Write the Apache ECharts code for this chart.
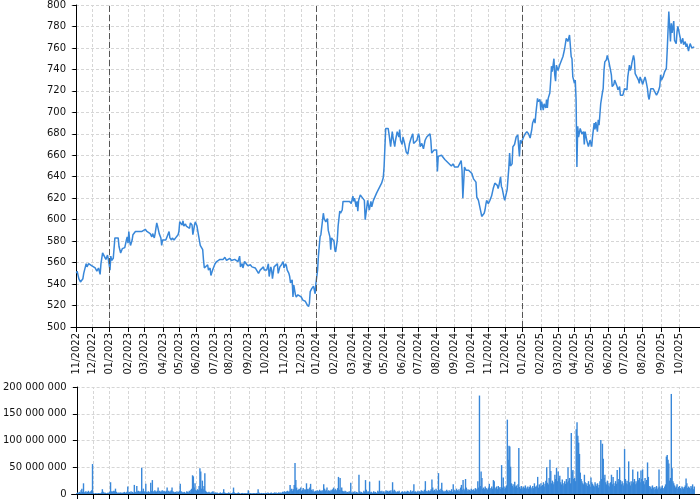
<!DOCTYPE html>
<html><head><meta charset="utf-8">
<script src="https://cdn.jsdelivr.net/npm/echarts@6/dist/echarts.min.js"></script>
<style>html,body{margin:0;padding:0;background:#fff}#c{width:700px;height:500px}</style>
</head><body><div id="c"></div>
<script>
// Trading-day index of the first session of each month, and its label
const monthIdx = [0,20,40,63,83,106,125,146,168,187,210,230,253,274,292,314,336,356,375,397,417,439,461,481,502,523,543,566,587,607,626,648,668,690,713,735];
const monthLbl = ['11/2022','12/2022','01/2023','02/2023','03/2023','04/2023','05/2023','06/2023','07/2023','08/2023','09/2023','10/2023','11/2023','12/2023','01/2024','02/2024','03/2024','04/2024','05/2024','06/2024','07/2024','08/2024','09/2024','10/2024','11/2024','12/2024','01/2025','02/2025','03/2025','04/2025','05/2025','06/2025','07/2025','08/2025','09/2025','10/2025'];
// Year boundaries (dashed markers)
const yearIdx = [40,292,543];
// Price: [trading-day index, close]
const price = [[0,550],[1,552],[3,545],[5,542],[6,542],[8,545],[9,550],[11,550],[12,559],[13,556],[15,559],[17,559],[19,557],[21,556],[23,555],[25,552],[27,555],[29,549],[30,559],[32,569],[34,566],[36,563],[38,567],[39,563],[40,562],[41,553],[42,566],[43,562],[45,564],[47,583],[49,584],[51,583],[52,575],[54,569],[56,573],[58,572],[59,574],[61,581],[62,584],[63,578],[64,589],[65,580],[66,576],[68,581],[69,586],[72,589],[74,590],[76,589],[78,589],[80,589],[82,590],[84,591],[86,589],[88,589],[90,587],[92,584],[93,587],[95,583],[96,587],[98,597],[99,594],[101,587],[103,583],[104,576],[105,581],[107,582],[109,581],[110,583],[111,583],[113,589],[114,583],[116,581],[117,583],[119,581],[121,583],[122,584],[124,586],[125,589],[126,598],[128,599],[129,595],[130,599],[131,594],[133,596],[134,594],[136,595],[138,592],[139,597],[141,595],[142,586],[144,595],[145,598],[147,594],[148,595],[149,594],[151,576],[152,575],[154,572],[155,562],[156,555],[158,556],[160,558],[161,553],[163,555],[164,548],[166,553],[167,555],[169,559],[171,561],[173,562],[175,563],[177,564],[179,563],[181,565],[183,562],[185,563],[187,564],[189,562],[191,563],[193,563],[195,562],[197,561],[199,566],[200,556],[202,559],[203,555],[205,561],[207,559],[209,557],[212,558],[214,556],[216,557],[218,555],[220,556],[222,550],[224,553],[226,552],[228,556],[229,553],[232,553],[234,559],[235,547],[237,556],[238,553],[239,545],[241,556],[243,555],[245,559],[246,550],[248,556],[250,558],[252,561],[253,555],[255,559],[256,557],[257,553],[259,550],[260,547],[261,541],[263,544],[264,528],[265,539],[267,530],[268,528],[270,530],[272,529],[274,528],[276,525],[279,524],[281,521],[283,519],[284,522],[285,533],[287,536],[288,535],[289,538],[291,531],[292,541],[294,553],[295,566],[297,584],[298,586],[300,586],[301,606],[302,601],[304,598],[305,597],[306,601],[307,590],[309,584],[310,572],[311,583],[312,583],[314,580],[315,572],[316,570],[318,581],[319,594],[321,608],[322,606],[324,609],[325,617],[327,618],[329,617],[331,618],[333,617],[335,615],[337,622],[338,617],[339,620],[341,612],[342,617],[343,608],[344,618],[346,623],[348,621],[350,621],[351,618],[352,600],[354,612],[355,618],[357,609],[359,617],[360,612],[362,618],[364,619],[366,625],[368,628],[370,631],[372,634],[374,639],[375,649],[377,685],[379,684],[380,685],[381,680],[383,668],[385,682],[386,676],[388,668],[389,674],[391,682],[393,677],[394,684],[395,674],[397,670],[398,677],[400,671],[402,663],[404,661],[406,671],[408,676],[410,680],[411,671],[413,670],[415,674],[417,680],[418,677],[419,668],[421,671],[423,666],[425,674],[427,677],[429,676],[431,680],[432,674],[433,662],[435,662],[436,665],[437,666],[439,665],[440,645],[441,659],[443,659],[445,660],[447,659],[449,656],[451,656],[453,653],[455,652],[457,650],[459,652],[461,649],[463,648],[465,649],[467,650],[469,655],[470,646],[471,620],[473,649],[475,646],[478,646],[480,645],[482,643],[484,638],[486,637],[487,635],[488,621],[490,618],[491,619],[493,607],[494,603],[495,604],[497,606],[498,609],[499,614],[500,618],[502,615],[504,618],[506,622],[508,629],[510,634],[511,635],[513,632],[514,629],[515,632],[517,640],[518,631],[519,629],[521,621],[522,618],[524,619],[525,628],[527,648],[528,662],[529,650],[530,649],[531,652],[532,668],[534,670],[536,677],[538,679],[539,668],[540,659],[541,674],[542,671],[543,673],[545,677],[547,680],[549,682],[551,680],[553,676],[555,684],[556,690],[558,694],[559,690],[560,699],[562,713],[563,710],[565,712],[566,702],[567,710],[569,702],[570,708],[572,704],[573,712],[574,704],[575,713],[577,718],[578,729],[579,743],[580,738],[582,750],[583,735],[584,729],[585,744],[587,739],[589,744],[591,744],[593,752],[595,759],[597,769],[599,766],[601,772],[603,752],[604,750],[605,733],[607,727],[608,730],[609,712],[610,649],[611,687],[612,677],[614,685],[615,685],[616,680],[618,682],[619,670],[620,682],[622,674],[624,668],[626,674],[628,668],[629,677],[631,690],[632,684],[633,691],[635,682],[636,693],[637,688],[639,708],[640,713],[641,718],[642,722],[643,739],[644,747],[646,749],[647,753],[649,747],[650,747],[651,739],[652,735],[653,724],[655,726],[656,730],[657,729],[659,724],[660,721],[662,724],[663,716],[664,715],[666,716],[667,719],[668,722],[670,721],[671,721],[672,733],[674,744],[675,739],[676,741],[677,746],[679,753],[680,749],[681,736],[683,735],[685,730],[686,727],[687,733],[689,729],[690,726],[692,727],[693,733],[694,730],[696,722],[697,715],[698,712],[700,722],[701,721],[703,722],[705,721],[707,716],[709,719],[711,724],[712,735],[713,730],[715,733],[717,738],[719,741],[720,757],[722,794],[723,780],[724,766],[725,783],[726,774],[728,785],[729,767],[731,764],[732,775],[733,780],[735,780],[736,769],[737,764],[739,769],[740,763],[742,766],[743,761],[744,764],[746,757],[747,761],[748,764],[750,760],[752,761],[753,761]];
// Daily volume in millions of shares, one value per trading day (index 0..753)
const volumeM = [
2,3,2,4,3,7,10,4,20,3, 4,5,3,4,6,3,4,5,7,56, 2,1,1,2,1,1,2,1,2,1, 3,9,4,2,3,2,1,2,3,2,
4,22,5,4,5,6,5,10,4,3, 2,3,2,3,2,3,2,3,4,2, 3,4,14,3,4,3,5,3,4,2, 17,4,3,15,5,6,4,5,4,49,
5,10,4,5,19,4,3,5,4,3, 21,6,26,5,4,7,5,4,6,12, 5,6,4,5,7,4,6,5,4,6, 12,5,6,4,5,7,12,5,4,3,
4,3,5,3,4,6,19,5,4,3, 3,4,2,3,5,4,3,6,4,8, 10,35,33,12,20,8,6,9,7,15, 48,42,10,25,9,15,39,6,4,3,
3,4,3,2,3,4,5,3,2,3, 2,3,2,1,2,3,2,2,3,9, 3,2,2,1,2,3,2,1,2,2, 3,12,3,2,2,1,2,3,2,1,
1,2,2,1,2,1,2,1,2,7, 2,1,2,1,1,2,1,2,1,2, 2,9,3,2,1,2,1,2,2,1, 2,2,1,3,2,1,2,3,2,1,
2,3,2,3,1,2,3,2,3,2, 3,4,3,5,4,3,5,6,4,5, 17,8,10,6,9,17,58,26,12,7, 8,10,9,12,6,8,11,7,9,8,
20,9,10,7,12,19,8,6,9,5, 4,6,5,7,6,5,8,6,5,7, 6,18,10,6,8,12,5,7,6,5, 8,6,9,12,7,10,8,6,11,32,
8,30,7,12,6,5,4,6,5,3, 4,3,5,4,21,3,2,4,3,5, 2,4,3,2,36,5,3,4,2,3, 6,4,26,8,3,5,4,23,3,4,
2,3,5,3,4,2,3,6,4,25, 5,4,6,3,5,2,4,7,5,6, 4,6,5,7,3,22,5,8,6,4, 3,5,4,6,3,2,4,5,3,4,
5,3,4,6,5,4,3,7,4,5, 6,18,4,5,3,4,6,3,5,4, 7,5,6,4,8,24,5,6,4,7, 5,6,9,27,12,6,8,5,10,7,
6,39,8,6,10,21,7,5,4,6, 5,8,6,4,7,5,6,9,4,18, 6,8,5,10,7,6,9,5,12,17, 8,26,10,7,28,12,6,9,7,8,
6,10,8,7,9,6,11,8,10,24, 12,184,15,42,30,10,12,9,14,11, 10,8,12,19,9,11,14,10,26,24, 12,10,14,9,15,11,13,10,54,12,
31,14,10,12,16,139,64,90,89,51, 20,15,18,12,23,14,16,11,18,86, 13,10,15,12,9,14,11,16,10,12, 14,10,13,16,12,9,15,11,20,14,
13,16,32,12,18,14,20,15,17,22, 14,19,25,50,21,18,30,64,43,20, 25,18,22,36,28,49,24,42,30,34, 22,18,27,20,16,24,19,28,22,50,
25,30,20,114,42,45,28,30,24,121, 134,109,96,75,40,28,24,20,18,36, 22,17,20,15,24,18,13,31,22,19, 16,14,22,18,15,20,12,17,24,101,
28,94,66,30,36,22,18,25,16,20, 14,22,36,18,32,20,15,24,19,45, 22,28,50,26,18,24,20,16,84,28, 20,25,18,61,22,16,24,19,46,22,
28,18,24,20,42,26,30,22,44,28, 46,24,18,30,22,26,59,32,15,12, 14,10,16,12,8,13,10,15,9,12, 46,14,10,12,16,11,9,14,18,70,
73,64,57,25,30,187,48,24,20,16, 12,14,18,10,13,15,11,9,14,12, 10,13,16,29,20,11,14,12,10,15, 12,18,9,14
];
const volTicks = [0,50,100,150,200];

const lblMap = {};
monthIdx.forEach((v,i)=>{ lblMap[v] = monthLbl[i]; });
const fmtSpace = n => String(n).replace(/\B(?=(\d{3})+(?!\d))/g,' ');
const FONT = 'DejaVu Sans';
const TXT = '#111';
const GRID_COLOR = '#d6d6d6';
const gridLine = {show:true, lineStyle:{color:GRID_COLOR, type:[3,2], width:1}};
const XMIN = -6.5, XMAX = 760;
const BLUE = '#3887d9';
const monthGrid = {
  silent:true, z:0, symbol:['none','none'], label:{show:false}, animation:false,
  lineStyle:{color:GRID_COLOR, type:[3,2], width:1},
  emphasis:{disabled:true},
  data:monthIdx.map(v=>({xAxis:v}))
};

const chart = echarts.init(document.getElementById('c'), null, {renderer:'canvas'});
chart.setOption({
  animation:false,
  backgroundColor:'#fff',
  grid:[
    {left:71, right:0, top:5, height:322},
    {left:71, right:0, top:387, height:107}
  ],
  xAxis:[
    {type:'value', gridIndex:0, min:XMIN, max:XMAX,
     axisLine:{show:true, onZero:false, lineStyle:{color:'#000', width:1}},
     axisTick:{show:true, customValues:monthIdx, length:5, lineStyle:{color:'#000'}},
     axisLabel:{show:true, customValues:monthIdx, rotate:90, margin:6, fontSize:10, fontFamily:FONT, color:TXT,
       formatter:v=>lblMap[v]||''},
     splitLine:{show:false}},
    {type:'value', gridIndex:1, min:XMIN, max:XMAX,
     axisLine:{show:true, onZero:false, lineStyle:{color:'#000', width:1}},
     axisTick:{show:true, customValues:monthIdx, length:5, lineStyle:{color:'#000'}},
     axisLabel:{show:false, customValues:monthIdx},
     splitLine:{show:false}}
  ],
  yAxis:[
    {type:'value', gridIndex:0, min:500, max:800, interval:20,
     axisLine:{show:true, lineStyle:{color:'#000'}},
     axisTick:{show:true, length:4, lineStyle:{color:'#000'}},
     axisLabel:{fontSize:10, fontFamily:FONT, color:TXT, margin:5},
     splitLine:gridLine},
    {type:'value', gridIndex:1, min:volTicks[0], max:volTicks[volTicks.length-1], interval:50,
     axisLine:{show:true, lineStyle:{color:'#000'}},
     axisTick:{show:true, length:4, lineStyle:{color:'#000'}},
     axisLabel:{fontSize:10, fontFamily:FONT, color:TXT, margin:5, formatter:v=>fmtSpace(v*1000000)},
     splitLine:gridLine}
  ],
  series:[
    // month grid lines, price panel (invisible carrier series)
    {type:'line', xAxisIndex:0, yAxisIndex:0, z:0, silent:true, showSymbol:false, symbol:'none',
     lineStyle:{opacity:0}, data:price, markLine:monthGrid},
    // month grid lines, volume panel (invisible carrier series)
    {type:'line', xAxisIndex:1, yAxisIndex:1, z:0, silent:true, showSymbol:false, symbol:'none',
     lineStyle:{opacity:0}, data:volumeM.map((v,i)=>[i,v]), markLine:monthGrid},
    {type:'bar', xAxisIndex:1, yAxisIndex:1, barWidth:1.4, large:false, z:2,
     itemStyle:{color:BLUE},
     data:volumeM.map((v,i)=>[i,v])},
    {type:'line', xAxisIndex:0, yAxisIndex:0, showSymbol:false, symbol:'none', z:3,
     lineStyle:{color:BLUE, width:1.5}, data:price,
     markLine:{silent:true, symbol:['none','none'], label:{show:false},
       lineStyle:{color:'#555', type:[6,3], width:1},
       data:yearIdx.map(v=>({xAxis:v}))}}
  ]
});
</script>
</body></html>
